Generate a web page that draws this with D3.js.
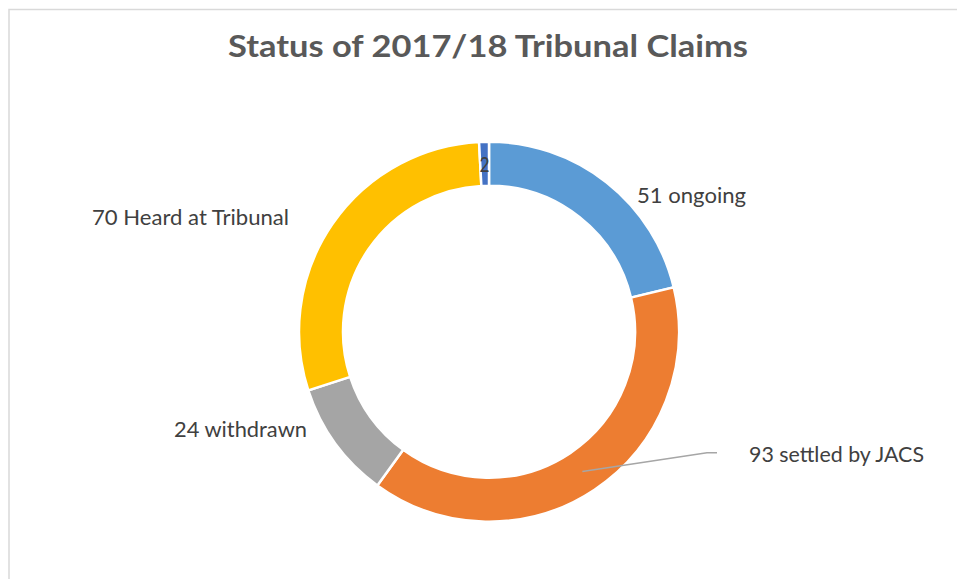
<!DOCTYPE html>
<html>
<head>
<meta charset="utf-8">
<script src="https://cdnjs.cloudflare.com/ajax/libs/d3/7.8.5/d3.min.js"></script>
<style>
  body { margin: 0; background: #fff; }
  svg { display: block; font-family: Lato, "Open Sans", sans-serif; }
</style>
</head>
<body>
<svg id="chart"></svg>
<script>
// data
var categories = ["ongoing", "settled by JACS", "withdrawn", "Heard at Tribunal", ""];
var values = [51, 93, 24, 70, 2];
var colors = ["#5B9BD5", "#ED7D31", "#A5A5A5", "#FFC000", "#4472C4"];

var width = 957,
    height = 579;

var svg = d3.select("svg#chart")
  .attr("width", width)
  .attr("height", height);

// chart area border (runs off right / bottom)
svg.append("rect")
  .attr("x", 9).attr("y", 9.5)
  .attr("width", width).attr("height", height)
  .attr("fill", "none")
  .attr("stroke", "#d9d9d9")
  .attr("stroke-width", 1.5);

svg.append("text")
  .attr("x", 488).attr("y", 56.5)
  .attr("text-anchor", "middle")
  .attr("font-size", 31)
  .attr("font-weight", "bold")
  .attr("fill", "#595959")
  .attr("textLength", 520)
  .attr("lengthAdjust", "spacingAndGlyphs")
  .text("Status of 2017/18 Tribunal Claims");

var cx = 489, cy = 331.7;
var outerR = 190, innerR = 146;

var data = values.map(function(v, i) {
  return { cat: categories[i], value: v, color: colors[i] };
});

var pie = d3.pie().sort(null).value(d => d.value);
var arcs = pie(data);

var arc = d3.arc().innerRadius(innerR).outerRadius(outerR);

var g = svg.append("g").attr("transform", "translate(" + cx + "," + cy + ")");

g.selectAll("path")
  .data(arcs)
  .enter().append("path")
  .attr("d", arc)
  .attr("fill", d => d.data.color)
  .attr("stroke", "white")
  .attr("stroke-width", 2.5)
  .attr("stroke-linejoin", "miter");

// label placement (Excel best-fit positions, relative to nothing but the frame)
var labelLayout = [
  { x: 637, y: 202.5, w: 109, anchor: "start" },
  { x: 749, y: 461.5, w: 175, anchor: "start" },
  { x: 174, y: 436.5, w: 133, anchor: "start" },
  { x: 92,  y: 224.5, w: 197, anchor: "start" },
  { x: 484.5, y: 171.5, w: 10, anchor: "middle" }
];

svg.append("g").selectAll("text")
  .data(arcs)
  .enter().append("text")
  .attr("x", (d, i) => labelLayout[i].x)
  .attr("y", (d, i) => labelLayout[i].y)
  .attr("text-anchor", (d, i) => labelLayout[i].anchor)
  .attr("font-size", 21.5)
  .attr("fill", "#404040")
  .attr("textLength", (d, i) => labelLayout[i].w)
  .attr("lengthAdjust", "spacingAndGlyphs")
  .text(d => d.data.cat ? d.data.value + " " + d.data.cat : d.data.value);

// leader line for the settled slice
var c = arc.centroid(arcs[1]);
var lx = 707 - cx, ly = 452.7 - cy;
svg.append("path")
  .attr("transform", "translate(" + cx + "," + cy + ")")
  .attr("d", d3.line()([c, [lx, ly], [lx + 10, ly]]))
  .attr("fill", "none")
  .attr("stroke", "#a6a6a6")
  .attr("stroke-width", 1.5);
</script>
</body>
</html>
